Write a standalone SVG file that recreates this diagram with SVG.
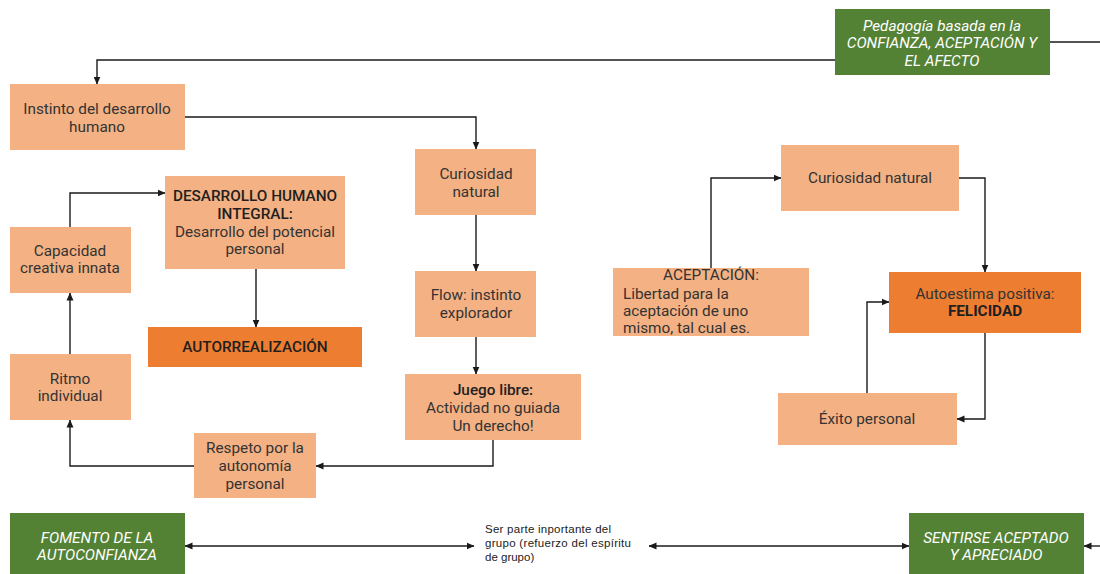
<svg xmlns="http://www.w3.org/2000/svg" width="1100" height="574" viewBox="0 0 1100 574">
<defs>
<marker id="arr" markerWidth="8" markerHeight="8" refX="7.5" refY="4" orient="auto-start-reverse" markerUnits="userSpaceOnUse">
<path d="M0,0.5 L8,4 L0,7.5 z" fill="#1a1a1a"/>
</marker>
</defs>
<style>
.lo{fill:#F4B183;}
.do{fill:#ED7D31;}
.gr{fill:#548235;}
text{font-family:Roboto,"Liberation Sans",sans-serif;font-size:15.3px;fill:#333333;}
.c{text-anchor:middle;}
.b{font-weight:bold;fill:#1f1f1f;}
.m{font-weight:500;fill:#1f1f1f;}
.w{fill:#ffffff;font-style:italic;text-anchor:middle;}
.s{font-family:"Liberation Sans",Arial,sans-serif;font-size:11.5px;fill:#222;}
.cn path{fill:none;stroke:#1a1a1a;stroke-width:1.4;}
</style>
<rect width="1100" height="574" fill="#ffffff"/>
<g class="cn">
<path d="M835,60 H97 V84" marker-end="url(#arr)"/>
<path d="M185,117 H476 V149" marker-end="url(#arr)"/>
<path d="M476,215 V271" marker-end="url(#arr)"/>
<path d="M476,337 V374" marker-end="url(#arr)"/>
<path d="M493,440 V466 H316" marker-end="url(#arr)"/>
<path d="M194,466 H70 V420" marker-end="url(#arr)"/>
<path d="M70,354 V293" marker-end="url(#arr)"/>
<path d="M70,227 V193 H165" marker-end="url(#arr)"/>
<path d="M256,269 V327" marker-end="url(#arr)"/>
<path d="M711,268 V178 H781" marker-end="url(#arr)"/>
<path d="M959,178 H985 V272" marker-end="url(#arr)"/>
<path d="M985,333 V419 H957" marker-end="url(#arr)"/>
<path d="M867,393 V302 H889" marker-end="url(#arr)"/>
<path d="M1050,42 H1100"/>
<path d="M185,546 H474" marker-start="url(#arr)" marker-end="url(#arr)"/>
<path d="M649,546 H909" marker-start="url(#arr)" marker-end="url(#arr)"/>
<path d="M1100,546 H1084" marker-end="url(#arr)"/>
</g>
<g id="pedagogia">
<rect class="gr" x="835" y="9" width="215" height="66"/>
<text class="w" x="942" y="30.5">Pedagogía basada en la</text>
<text class="w" x="942" y="48">CONFIANZA, ACEPTACIÓN Y</text>
<text class="w" x="942" y="65.5">EL AFECTO</text>
</g>
<g id="instinto">
<rect class="lo" x="10" y="84" width="175" height="66"/>
<text class="c" x="97" y="114">Instinto del desarrollo</text>
<text class="c" x="97" y="132">humano</text>
</g>
<g id="curiosidad1">
<rect class="lo" x="415" y="149" width="121" height="66"/>
<text class="c" x="476" y="179">Curiosidad</text>
<text class="c" x="476" y="197">natural</text>
</g>
<g id="flow">
<rect class="lo" x="415" y="271" width="121" height="66"/>
<text class="c" x="476" y="300">Flow: instinto</text>
<text class="c" x="476" y="318">explorador</text>
</g>
<g id="juego">
<rect class="lo" x="405" y="374" width="176" height="66"/>
<text class="c m" x="493" y="395">Juego libre:</text>
<text class="c" x="493" y="413">Actividad no guiada</text>
<text class="c" x="493" y="431">Un derecho!</text>
</g>
<g id="respeto">
<rect class="lo" x="194" y="433" width="122" height="65"/>
<text class="c" x="255" y="453">Respeto por la</text>
<text class="c" x="255" y="471">autonomía</text>
<text class="c" x="255" y="488.5">personal</text>
</g>
<g id="ritmo">
<rect class="lo" x="10" y="354" width="121" height="66"/>
<text class="c" x="70" y="384">Ritmo</text>
<text class="c" x="70" y="401">individual</text>
</g>
<g id="capacidad">
<rect class="lo" x="10" y="227" width="121" height="66"/>
<text class="c" x="70" y="256">Capacidad</text>
<text class="c" x="70" y="273">creativa innata</text>
</g>
<g id="desarrollo">
<rect class="lo" x="165" y="176" width="180" height="93"/>
<text class="c m" x="255" y="201">DESARROLLO HUMANO</text>
<text class="c m" x="255" y="219">INTEGRAL:</text>
<text class="c" x="255" y="237">Desarrollo del potencial</text>
<text class="c" x="255" y="254">personal</text>
</g>
<g id="autorrealizacion">
<rect class="do" x="148" y="327" width="214" height="40"/>
<text class="c m" x="255" y="352">AUTORREALIZACIÓN</text>
</g>
<g id="aceptacion">
<rect class="lo" x="613" y="268" width="196" height="68"/>
<text class="c" x="711" y="280">ACEPTACIÓN:</text>
<text x="623" y="299">Libertad para la</text>
<text x="623" y="316">aceptación de uno</text>
<text x="623" y="332.5">mismo, tal cual es.</text>
</g>
<g id="curiosidad2">
<rect class="lo" x="781" y="145" width="178" height="66"/>
<text class="c" x="870" y="183">Curiosidad natural</text>
</g>
<g id="autoestima">
<rect class="do" x="889" y="272" width="192" height="61"/>
<text class="c" x="985" y="299">Autoestima positiva:</text>
<text class="c b" x="985" y="316">FELICIDAD</text>
</g>
<g id="exito">
<rect class="lo" x="778" y="393" width="179" height="52"/>
<text class="c" x="867" y="424">Éxito personal</text>
</g>
<g id="fomento">
<rect class="gr" x="10" y="513" width="175" height="66"/>
<text class="w" x="97" y="543">FOMENTO DE LA</text>
<text class="w" x="97" y="560">AUTOCONFIANZA</text>
</g>
<g id="grupo">
<text class="s" x="485" y="533" textLength="126" lengthAdjust="spacing">Ser parte inportante del</text>
<text class="s" x="485" y="547" textLength="146" lengthAdjust="spacing">grupo (refuerzo del espíritu</text>
<text class="s" x="485" y="561">de grupo)</text>
</g>
<g id="sentirse">
<rect class="gr" x="909" y="513" width="175" height="66"/>
<text class="w" x="996" y="543">SENTIRSE ACEPTADO</text>
<text class="w" x="996" y="560">Y APRECIADO</text>
</g>
</svg>
